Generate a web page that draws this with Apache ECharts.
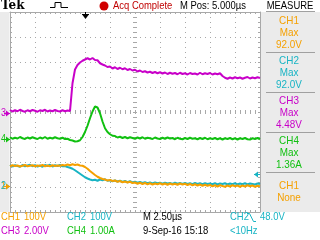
<!DOCTYPE html>
<html><head><meta charset="utf-8">
<script src="https://cdn.jsdelivr.net/npm/echarts@6/dist/echarts.min.js"></script>
<style>html,body{margin:0;padding:0;background:#fff}#c{width:320px;height:240px}</style>
</head><body><div id="c"></div>
<script>
// time in horizontal divisions (2.50 us / div), values in vertical divisions
const times = [0,0.1,0.2,0.3,0.4,0.5,0.6,0.7,0.8,0.9,1,1.1,1.2,1.3,1.4,1.5,1.6,1.7,1.8,1.9,2,2.1,2.2,2.3,2.4,2.5,2.6,2.7,2.8,2.9,3,3.1,3.2,3.3,3.4,3.5,3.6,3.7,3.8,3.9,4,4.1,4.2,4.3,4.4,4.5,4.6,4.7,4.8,4.9,5,5.1,5.2,5.3,5.4,5.5,5.6,5.7,5.8,5.9,6,6.1,6.2,6.3,6.4,6.5,6.6,6.7,6.8,6.9,7,7.1,7.2,7.3,7.4,7.5,7.6,7.7,7.8,7.9,8,8.1,8.2,8.3,8.4,8.5,8.6,8.7,8.8,8.9,9,9.1,9.2,9.3,9.4,9.5,9.6,9.7,9.8,9.9,10];
const ch1 = [1.83,1.87,1.84,1.86,1.82,1.85,1.88,1.83,1.85,1.87, 1.83,1.86,1.84,1.88,1.83,1.86,1.83,1.87,1.84,1.86, 1.85,1.88,1.86,1.9,1.87,1.91,1.88,1.9,1.86,1.85, 1.8,1.73,1.64,1.56,1.48,1.41,1.36,1.32,1.3,1.26, 1.28,1.24,1.26,1.21,1.24,1.19,1.22,1.18,1.21,1.16, 1.18,1.13,1.17,1.12,1.16,1.11,1.15,1.1,1.14,1.11, 1.15,1.1,1.14,1.09,1.14,1.1,1.13,1.09,1.14,1.1, 1.13,1.08,1.12,1.07,1.11,1.06,1.1,1.05,1.09,1.05, 1.08,1.03,1.07,1.02,1.07,1.04,1.01,1.06,1.02,1.07, 1.03,1.06,1.01,1.06,1.02,1.07,1.03,1.06,1.01,1.05,1.03];
const ch2 = [1.88,1.82,1.87,1.84,1.81,1.88,1.83,1.86,1.89,1.83, 1.87,1.82,1.86,1.81,1.88,1.84,1.89,1.82,1.87,1.84, 1.88,1.83,1.84,1.8,1.77,1.73,1.67,1.6,1.53,1.46, 1.39,1.34,1.3,1.27,1.29,1.25,1.3,1.27,1.31,1.25, 1.27,1.23,1.26,1.22,1.25,1.2,1.24,1.19,1.23,1.18, 1.21,1.17,1.2,1.16,1.19,1.15,1.18,1.14,1.18,1.15, 1.17,1.13,1.17,1.14,1.16,1.12,1.17,1.13,1.16,1.12, 1.16,1.12,1.15,1.11,1.16,1.12,1.15,1.11,1.15,1.12, 1.14,1.11,1.15,1.1,1.14,1.12,1.15,1.1,1.14,1.11, 1.15,1.1,1.14,1.11,1.15,1.1,1.14,1.12,1.1,1.14,1.12];
const ch3 = [4.08,4.02,4.07,4.03,4.09,4.04,4.01,4.07,4.03,4.08, 4.05,4.01,4.07,4.04,4.09,4.02,4.06,4.03,4.08,4.04, 4.02,4.07,4.03,4.06,4.04,5.15,5.7,5.88,5.98,6.05, 6.1,6.15,6.1,6.16,6.08,6.07,5.95,5.9,5.86,5.8, 5.82,5.74,5.79,5.72,5.77,5.71,5.75,5.68,5.72,5.66, 5.69,5.62,5.66,5.6,5.63,5.58,5.61,5.56,5.6,5.55, 5.59,5.54,5.58,5.52,5.57,5.53,5.56,5.51,5.57,5.52, 5.55,5.5,5.56,5.52,5.54,5.5,5.57,5.51,5.55,5.52, 5.56,5.5,5.54,5.51,5.55,5.44,5.37,5.33,5.38,5.34, 5.39,5.35,5.38,5.33,5.37,5.4,5.34,5.38,5.35,5.39,5.36];
const ch4 = [2.99,2.93,2.97,2.94,3.0,2.95,2.92,2.98,2.94,2.99, 2.95,2.92,2.98,2.94,3.0,2.93,2.97,2.94,2.99,2.95, 2.93,2.97,2.92,2.93,2.88,2.86,2.82,2.83,2.87,3.0, 3.2,3.45,3.75,4.02,4.22,4.18,3.95,3.62,3.35,3.2, 3.11,3.05,3.04,2.98,3.01,2.96,3.0,2.95,2.99,2.96, 2.93,2.98,2.94,2.99,2.93,2.97,2.95,2.92,2.98,2.94, 2.92,2.97,2.93,2.98,2.94,2.96,2.91,2.97,2.93,2.91, 2.96,2.92,2.97,2.93,2.95,2.91,2.96,2.92,2.97,2.91, 2.95,2.92,2.96,2.91,2.95,2.9,2.95,2.92,2.96,2.91, 2.95,2.9,2.95,2.92,2.96,2.91,2.9,2.95,2.92,2.96,2.91];

const chNames = ['CH1','CH2','CH3','CH4'];
const chColors = ['#f5a000','#18b4c4','#c800c8','#10c010'];
const chScales = ['100V','100V','2.00V','1.00A'];
const groundLevels = [1.05, 1.05, 3.95, 2.93];
const measNames = ['CH1','CH2','CH3','CH4','CH1'];
const measTypes = ['Max','Max','Max','Max','None'];
const measValues = ['92.0V','92.0V','4.48V','1.36A',''];
const measColors = ['#f5a000','#18b4c4','#c800c8','#10c010','#f5a000'];
const triggerTime = 3.0;
const triggerLevel = 1.53;
const timebase = 'M 2.50\u00b5s';
const mpos = 'M Pos: 5.000\u00b5s';
const dateText = '9-Sep-16 15:18';
const trigSource = 'CH2';
const trigValue = '48.0V';
const freqText = '<10Hz';

const FONT = '"Liberation Sans", Arial, sans-serif';
const GRID = '#a8a8a8';
const DOT = '#a8a8a8';

const chart = echarts.init(document.getElementById('c'), null, {renderer: 'canvas'});

function mkAxis(kind, pos, offset, split, tickLen) {
  const isX = kind === 'x';
  return {
    type: 'value', gridIndex: 0, position: pos, offset: offset,
    min: 0, max: isX ? 10 : 8, interval: 1,
    axisLine: {show: offset === 0, onZero: false, lineStyle: {color: GRID, width: 1}},
    axisTick: {show: true, inside: true, length: tickLen, lineStyle: {color: GRID}},
    minorTick: {show: true, splitNumber: 5, length: tickLen, lineStyle: {color: GRID}},
    splitLine: {show: split, lineStyle: {color: DOT, width: 1, type: [1, 4]}},
    minorSplitLine: {show: false},
    axisLabel: {show: false}
  };
}

const seriesList = [
  {data: ch2, c: 1}, {data: ch1, c: 0}, {data: ch4, c: 3}, {data: ch3, c: 2}
].map(s => ({
  type: 'line', xAxisIndex: 0, yAxisIndex: 0, showSymbol: false, symbol: 'none',
  silent: true, animation: false, z: 5,
  lineStyle: {color: chColors[s.c], width: 2},
  data: times.map((t, i) => [t, s.data[i]])
}));

chart.setOption({
  animation: false,
  backgroundColor: '#ffffff',
  grid: {left: 10, top: 12, width: 250, height: 200, show: false},
  xAxis: [
    mkAxis('x', 'bottom', 0, true, 2),
    mkAxis('x', 'top', 0, false, 2),
    mkAxis('x', 'bottom', -100, false, 2),
    mkAxis('x', 'top', -100, false, 2)
  ],
  yAxis: [
    mkAxis('y', 'left', 0, true, 2),
    mkAxis('y', 'right', 0, false, 2),
    mkAxis('y', 'left', -125, false, 2),
    mkAxis('y', 'right', -125, false, 2)
  ],
  series: seriesList
});

function T(x, y, s, color, size, align, sx, weight, family) {
  return {type: 'text', x: x, y: y, scaleX: sx == null ? 0.9 : sx, z: 100,
    style: {text: s, fill: color, fontSize: size || 10.5, fontFamily: family || FONT,
      fontWeight: weight || 'normal', textAlign: align || 'left', textVerticalAlign: 'middle',
      align: align || 'left', verticalAlign: 'middle'}};
}

const P = (t, v) => chart.convertToPixel({seriesIndex: 0}, [t, v]);
const g = [];
// background panels
g.push({type: 'rect', shape: {x: 0, y: 12, width: 9.5, height: 200}, style: {fill: '#ebebeb'}, z: -10});
g.push({type: 'rect', shape: {x: 261, y: 12, width: 59, height: 200}, style: {fill: '#ebebeb'}, z: -10});
// top bar
g.push(T(1, 6, 'Tek', '#000', 12, 'left', 1, 'bold', '"DejaVu Serif", "Liberation Serif", serif'));
g.push({type: 'polyline', shape: {points: [[50, 7.5], [55, 7.5], [55, 2.5], [61, 2.5], [61, 7.5], [68, 7.5]]}, style: {stroke: '#000', lineWidth: 1, fill: null}, z: 100});
g.push({type: 'circle', shape: {cx: 104, cy: 6, r: 4.5}, style: {fill: '#d00000'}, z: 100});
g.push(T(113, 6, 'Acq Complete', '#c00000', 10.5));
g.push(T(180, 6, mpos, '#000', 10.5));
g.push(T(290, 6, 'MEASURE', '#000', 10.5, 'center'));
g.push({type: 'line', shape: {x1: 266, y1: 11.5, x2: 315, y2: 11.5}, style: {stroke: '#a0a0a0', lineWidth: 1}, z: 100});
// measurement blocks
for (let i = 0; i < 5; i++) {
  const top = 12 + 40 * i;
  if (i > 0) g.push({type: 'line', shape: {x1: 266, y1: top + 0.5, x2: 315, y2: top + 0.5}, style: {stroke: '#a0a0a0', lineWidth: 1}, z: 100});
  if (measValues[i]) {
    g.push(T(289, top + 9, measNames[i], measColors[i], 11, 'center'));
    g.push(T(289, top + 21, measTypes[i], measColors[i], 11, 'center'));
    g.push(T(289, top + 33, measValues[i], measColors[i], 11, 'center'));
  } else {
    g.push(T(289, top + 14, measNames[i], measColors[i], 11, 'center'));
    g.push(T(289, top + 26, measTypes[i], measColors[i], 11, 'center'));
  }
}
// bottom info rows
const rowY = [217.5, 231.5];
const colX = [1, 67];
[[0, 0, 0], [1, 0, 1], [2, 1, 0], [3, 1, 1]].forEach(([c, r, k]) => {
  g.push(T(colX[k], rowY[r], chNames[c], chColors[c], 10.5));
  g.push(T(colX[k] + 23, rowY[r], chScales[c], chColors[c], 10.5));
});
g.push(T(143, rowY[0], timebase, '#000', 10.5));
g.push(T(143, rowY[1], dateText, '#000', 10.5));
g.push(T(230, rowY[0], trigSource, chColors[1], 10.5));
g.push({type: 'polyline', shape: {points: [[247, 213.5], [249.5, 213.5], [253.5, 221.5], [256, 221.5]]}, style: {stroke: chColors[1], lineWidth: 1, fill: null}, z: 100});
g.push(T(260, rowY[0], trigValue, chColors[1], 10.5));
g.push(T(230, rowY[1], freqText, chColors[1], 10.5));
// ground markers on left (CH1 first so CH2 digit sits over it)
[0, 1, 2, 3].forEach(c => {
  const y = P(0, groundLevels[c])[1];
  g.push(T(1, y, String(c + 1), chColors[c], 10, 'left', 0.9));
});
[1, 0, 2, 3].forEach(c => {
  const y = Math.round(P(0, groundLevels[c])[1]) + 0.5;
  g.push({type: 'polygon', shape: {points: [[6, y - 3], [10, y], [6, y + 3]]}, style: {fill: chColors[c]}, z: 101});
  g.push({type: 'line', shape: {x1: 4, y1: y, x2: 10, y2: y}, style: {stroke: chColors[c], lineWidth: 1}, z: 101});
});
// trigger level marker (right)
{
  const y = Math.round(P(10, triggerLevel)[1]) + 0.5;
  const x = P(10, triggerLevel)[0];
  g.push({type: 'polygon', shape: {points: [[x - 6, y], [x - 2, y - 3], [x - 2, y + 3]]}, style: {fill: chColors[1]}, z: 101});
  g.push({type: 'line', shape: {x1: x - 6, y1: y, x2: x, y2: y}, style: {stroke: chColors[1], lineWidth: 1}, z: 101});
}
// trigger position marker (top)
{
  const x = Math.round(P(triggerTime, 8)[0]) + 0.5;
  const y = P(triggerTime, 8)[1];
  g.push({type: 'line', shape: {x1: x - 3.5, y1: y + 2.5, x2: x + 3.5, y2: y + 2.5}, style: {stroke: '#000', lineWidth: 1}, z: 101});
  g.push({type: 'polygon', shape: {points: [[x - 3, y + 3], [x + 3, y + 3], [x, y + 7]]}, style: {fill: '#000'}, z: 101});
  g.push({type: 'line', shape: {x1: x, y1: y, x2: x, y2: y + 6}, style: {stroke: '#000', lineWidth: 1}, z: 101});
}
chart.setOption({graphic: g});
</script></body></html>
